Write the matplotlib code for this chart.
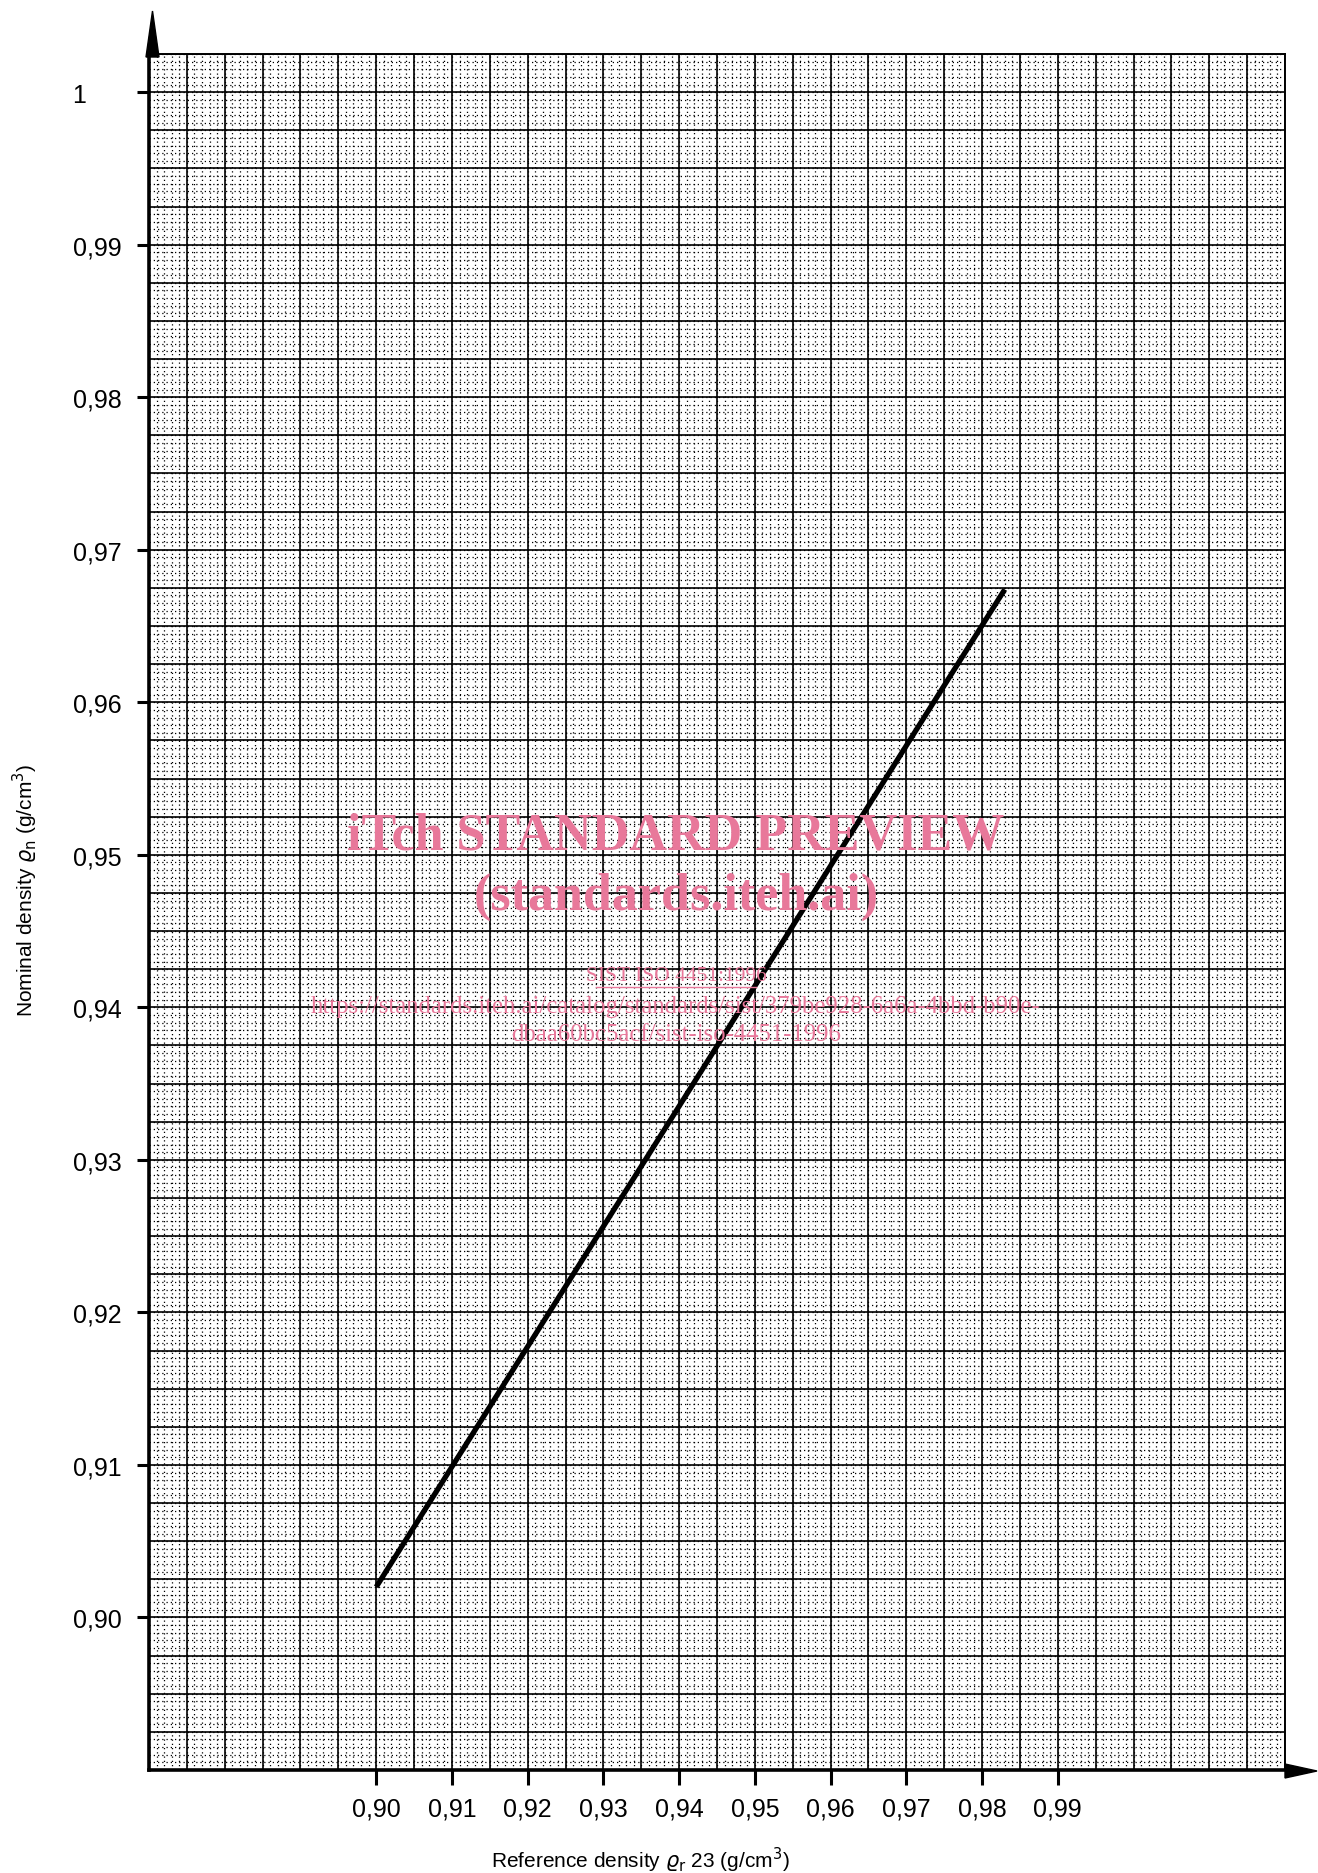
import numpy as np
import matplotlib
matplotlib.use('Agg')
import matplotlib.pyplot as plt
from matplotlib.patches import Polygon

plt.rcParams['font.family'] = ['Liberation Sans', 'DejaVu Sans']

# data
ref_density = [0.900, 0.983]
nom_density = [0.902, 0.9674]

x_ticks = [0.90, 0.91, 0.92, 0.93, 0.94, 0.95, 0.96, 0.97, 0.98, 0.99]
x_ticklabels = ['0,90', '0,91', '0,92', '0,93', '0,94', '0,95', '0,96', '0,97', '0,98', '0,99']
y_ticks = [0.90, 0.91, 0.92, 0.93, 0.94, 0.95, 0.96, 0.97, 0.98, 0.99, 1.00]
y_ticklabels = ['0,90', '0,91', '0,92', '0,93', '0,94', '0,95', '0,96', '0,97', '0,98', '0,99', '1']

xmin, xmax = 0.87, 1.02
ymin, ymax = 0.89, 1.0025

W, H = 1318, 1874
fig = plt.figure(figsize=(W / 100, H / 100), dpi=100)
left, right, top, bottom = 149, 1285, 55, 1771
ax = fig.add_axes([left / W, 1 - bottom / H, (right - left) / W, (bottom - top) / H])
ax.set_xlim(xmin, xmax)
ax.set_ylim(ymin, ymax)

# graph paper: dotted mm lines and solid lines every 5 mm
xs_minor = np.linspace(xmin, xmax, 151)
ys_minor = np.linspace(ymin, ymax, 226)
ax.vlines(xs_minor, ymin, ymax, colors='black', linewidth=0.9,
          linestyles=(0, (1.0, 2.4)), zorder=1)
ax.hlines(ys_minor, xmin, xmax, colors='black', linewidth=0.9,
          linestyles=(0, (1.0, 2.4)), zorder=1)
xs_major = np.linspace(xmin, xmax, 31)
ys_major = np.linspace(ymin, ymax, 46)
ax.vlines(xs_major, ymin, ymax, colors='black', linewidth=1.2, zorder=2)
ax.hlines(ys_major, xmin, xmax, colors='black', linewidth=1.2, zorder=2)

ax.plot(ref_density, nom_density, color='black', linewidth=3.8,
        solid_capstyle='butt', zorder=5)

ax.set_xticks(x_ticks)
ax.set_xticklabels(x_ticklabels)
ax.set_yticks(y_ticks)
ax.set_yticklabels(y_ticklabels)
ax.tick_params(axis='x', direction='out', length=11, width=2.2, pad=8, labelsize=18)
ax.tick_params(axis='y', direction='out', length=9, width=2.2, pad=46, labelsize=18)
for lab in ax.get_yticklabels():
    lab.set_horizontalalignment('left')

for s in ['left', 'bottom']:
    ax.spines[s].set_linewidth(2.6)
for s in ['top', 'right']:
    ax.spines[s].set_linewidth(1.4)

# axis arrows
fig.patches.append(Polygon([(146 / W, 1 - 58 / H), (159 / W, 1 - 58 / H), (152.5 / W, 1 - 12 / H)],
                           closed=True, transform=fig.transFigure, color='black'))
fig.patches.append(Polygon([(1285 / W, 1 - 1765 / H), (1285 / W, 1 - 1779 / H), (1317 / W, 1 - 1772 / H)],
                           closed=True, transform=fig.transFigure, color='black'))

fig.text(640 / W, 1 - 1860 / H, r'Reference density $\varrho_\mathrm{r}$ 23 (g/cm$^3$)',
         ha='center', va='center', fontsize=15)
fig.text(25 / W, 1 - 890 / H, r'Nominal density $\varrho_\mathrm{n}$ (g/cm$^3$)',
         ha='center', va='center', fontsize=15, rotation=90)

# watermark
pink = '#e8789a'
wm = dict(ha='center', va='center', color=pink, family=['Liberation Serif', 'DejaVu Serif'], zorder=6)
fig.text(676 / W, 1 - 837 / H, 'iTch STANDARD PREVIEW', fontsize=37.5, fontweight='bold', **wm)
fig.text(676 / W, 1 - 897 / H, '(standards.iteh.ai)', fontsize=37.5, fontweight='bold', **wm)
fig.text(676 / W, 1 - 977 / H, 'SIST ISO 4451:1996', fontsize=15.5, **wm)
fig.add_artist(plt.Line2D([596 / W, 756 / W], [1 - 988 / H, 1 - 988 / H], color=pink,
                          linewidth=1.0, transform=fig.transFigure))
fig.text(676 / W, 1 - 1007 / H,
         'https://standards.iteh.ai/catalog/standards/sist/379be928-6a6a-4bbd-b90e-',
         fontsize=17.8, **wm)
fig.text(676 / W, 1 - 1035 / H, 'dbaa60bc5acf/sist-iso-4451-1996', fontsize=17.8, **wm)

fig.savefig('out.png', dpi=100)
